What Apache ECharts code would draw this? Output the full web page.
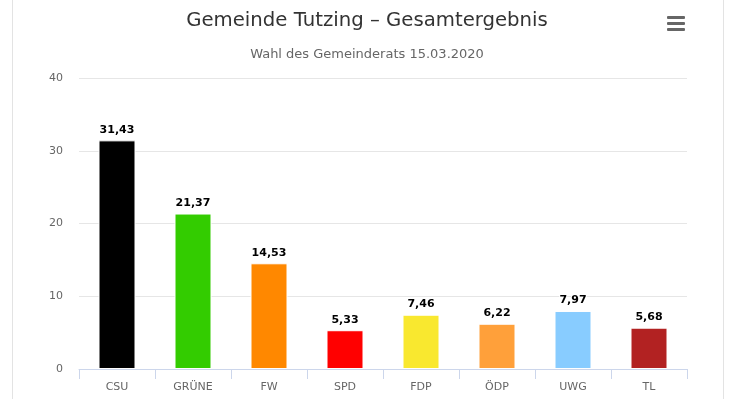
<!DOCTYPE html>
<html>
<head>
<meta charset="utf-8">
<script src="https://cdn.jsdelivr.net/npm/echarts@6/dist/echarts.min.js"></script>
<style>
  html, body { margin: 0; padding: 0; background: #fff; }
  #chart { width: 734px; height: 399px; }
</style>
</head>
<body>
<div id="chart"></div>
<script>
// party results, Gemeinderatswahl Tutzing 2020
const parties = ['CSU', 'GRÜNE', 'FW', 'SPD', 'FDP', 'ÖDP', 'UWG', 'TL']
const results = [31.43, 21.37, 14.53, 5.33, 7.46, 6.22, 7.97, 5.68]
const partyColors = ['#000000', '#33cc00', '#ff8800', '#ff0000', '#f9e82f', '#ffa03a', '#88ccff', '#b22222']
const yTicks = [0, 10, 20, 30, 40]

const font = '"DejaVu Sans", "Lucida Grande", sans-serif'
const chart = echarts.init(document.getElementById('chart'))

const options = {
    animation: false,
    title: [
        {
            text: 'Gemeinde Tutzing – Gesamtergebnis',
            left: 'center',
            top: 6,
            textStyle: { fontFamily: font, fontSize: 19.7, fontWeight: 'normal', color: '#333333' }
        },
        {
            text: 'Wahl des Gemeinderats 15.03.2020',
            left: 'center',
            top: 43,
            textStyle: { fontFamily: font, fontSize: 13, fontWeight: 'normal', color: '#666666' }
        }
    ],
    grid: { left: 79, right: 47, top: 78, bottom: 30 },
    xAxis: {
        type: 'category',
        data: parties,
        axisLine: { lineStyle: { color: '#ccd6eb', width: 1 } },
        axisTick: { show: true, interval: 0, length: 10, lineStyle: { color: '#ccd6eb', width: 1 } },
        axisLabel: { fontFamily: font, fontSize: 11, color: '#666666', margin: 13 }
    },
    yAxis: {
        type: 'value',
        min: yTicks[0],
        max: yTicks[yTicks.length - 1],
        interval: 10,
        axisLine: { show: false },
        axisTick: { show: false },
        axisLabel: { fontFamily: font, fontSize: 11, color: '#666666', margin: 16 },
        splitLine: { lineStyle: { color: '#e6e6e6' } }
    },
    series: [{
        type: 'bar',
        barWidth: 37,
        data: results.map((v, i) => ({
            value: v,
            itemStyle: { color: partyColors[i], borderColor: '#ffffff', borderWidth: 1 }
        })),
        label: {
            show: true,
            position: 'top',
            distance: 5,
            formatter: p => p.value.toFixed(2).replace('.', ','),
            fontFamily: font,
            fontSize: 11,
            fontWeight: 'bold',
            color: '#000000',
            textBorderColor: '#ffffff',
            textBorderWidth: 2
        }
    }],
    graphic: [
        // container borders
        { type: 'line', shape: { x1: 12.5, y1: 0, x2: 12.5, y2: 399 }, style: { stroke: '#e3e3e3', lineWidth: 1 } },
        { type: 'line', shape: { x1: 723.5, y1: 0, x2: 723.5, y2: 399 }, style: { stroke: '#e3e3e3', lineWidth: 1 } },
        // menu button
        { type: 'rect', shape: { x: 667, y: 16, width: 18, height: 3, r: 1 }, style: { fill: '#666666' } },
        { type: 'rect', shape: { x: 667, y: 22, width: 18, height: 3, r: 1 }, style: { fill: '#666666' } },
        { type: 'rect', shape: { x: 667, y: 28, width: 18, height: 3, r: 1 }, style: { fill: '#666666' } }
    ]
}
chart.setOption(options)
</script>
</body>
</html>
